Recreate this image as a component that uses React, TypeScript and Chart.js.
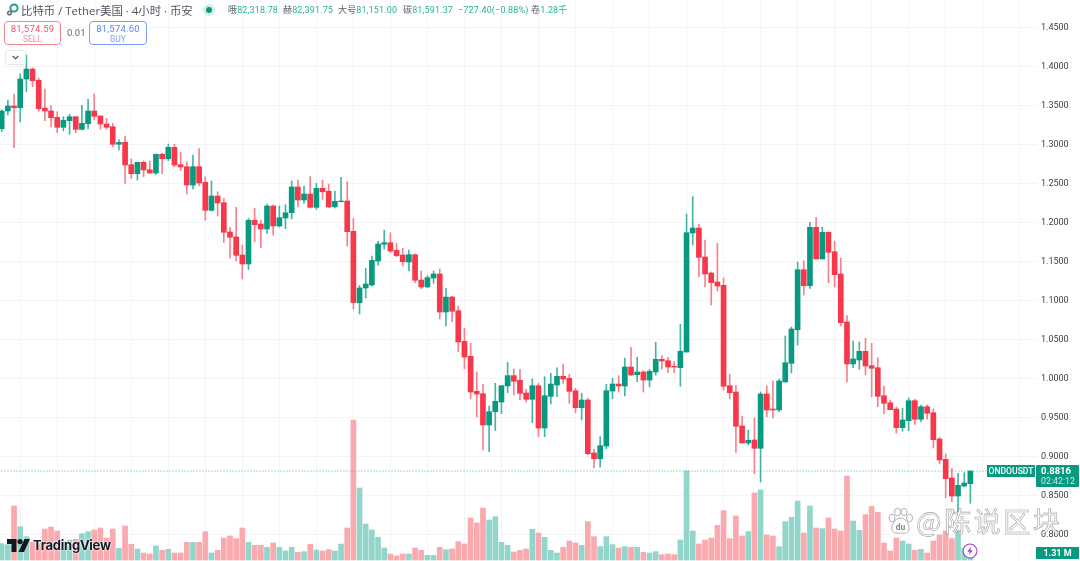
import React, { useEffect, useRef } from "react";
import { Chart, registerables } from "chart.js";

Chart.register(...registerables);

const opens = [
  1.3205, 1.3432, 1.3496, 1.3474, 1.3842, 1.397, 1.3826, 1.347, 1.3432, 1.3351,
  1.3223, 1.3308, 1.3359, 1.3197, 1.3269, 1.3432, 1.3368, 1.3265, 1.3231, 1.3006,
  1.3031, 1.2744, 1.2628, 1.2774, 1.2679, 1.2637, 1.2877, 1.282, 1.2967, 1.2744,
  1.2718, 1.2483, 1.2718, 1.2518, 1.2159, 1.2342, 1.2256, 1.1881, 1.1817, 1.1586,
  1.1471, 1.2031, 1.1983, 1.1919, 1.2214, 1.1958, 1.206, 1.2128, 1.2458, 1.2291,
  1.2368, 1.2197, 1.2441, 1.2403, 1.2205, 1.2269, 1.2278, 1.189, 1.0974, 1.1163,
  1.1201, 1.1509, 1.1723, 1.1744, 1.1646, 1.1586, 1.1496, 1.159, 1.1265, 1.1176,
  1.1291, 1.1342, 1.0855, 1.1047, 1.0872, 1.0479, 1.0287, 0.9838, 0.9808, 0.9407,
  0.9577, 0.9701, 0.9907, 1.0039, 0.998, 0.9817, 0.9736, 0.991, 0.9368, 0.9774,
  0.9919, 1.0031, 1.0005, 0.9846, 0.9628, 0.9727, 0.9048, 0.8974, 0.9137, 0.9842,
  0.9932, 0.9906, 1.015, 1.0051, 1.0086, 0.9983, 1.0086, 1.0249, 1.0231, 1.0159,
  1.0141, 1.0342, 1.1868, 1.1932, 1.156, 1.1355, 1.124, 1.1197, 0.991, 0.9829,
  0.9394, 0.9176, 0.9214, 0.9108, 0.9804, 0.9612, 0.9599, 0.9958, 1.0197, 1.0628,
  1.1397, 1.1192, 1.1941, 1.1535, 1.1877, 1.1628, 1.1342, 1.0727, 1.0189, 1.024,
  1.0351, 1.0167, 1.0141, 0.9782, 0.9692, 0.9612, 0.9372, 0.9462, 0.9718, 0.948,
  0.9641, 0.9564, 0.9227, 0.8967, 0.8727, 0.8496, 0.8624, 0.8654,
];
const closes = [
  1.3432, 1.3496, 1.3474, 1.3842, 1.397, 1.382, 1.3461, 1.3432, 1.3346, 1.3223,
  1.3313, 1.3359, 1.3197, 1.3274, 1.3432, 1.3364, 1.3265, 1.3223, 1.3005, 1.3028,
  1.274, 1.2628, 1.2774, 1.2676, 1.2637, 1.2877, 1.282, 1.2967, 1.274, 1.2714,
  1.2483, 1.2718, 1.2509, 1.2159, 1.2342, 1.2253, 1.1877, 1.1813, 1.1582, 1.1471,
  1.2031, 1.1974, 1.1919, 1.2214, 1.1958, 1.2064, 1.2128, 1.2458, 1.2291, 1.2368,
  1.2197, 1.2441, 1.2397, 1.2201, 1.2274, 1.2278, 1.1885, 1.0977, 1.1163, 1.1214,
  1.1518, 1.1727, 1.1744, 1.1637, 1.1577, 1.15, 1.159, 1.1262, 1.1176, 1.1295,
  1.1342, 1.0855, 1.1047, 1.0864, 1.0471, 1.0278, 0.983, 0.9804, 0.9407, 0.9577,
  0.971, 0.991, 1.0039, 0.9967, 0.9813, 0.9736, 0.991, 0.9368, 0.9782, 0.9932,
  1.0031, 0.9996, 0.9838, 0.9628, 0.9727, 0.9039, 0.8974, 0.9141, 0.9846, 0.9932,
  0.9906, 1.015, 1.0048, 1.0086, 0.9983, 1.0095, 1.0249, 1.0227, 1.015, 1.015,
  1.0351, 1.1872, 1.1932, 1.1556, 1.1342, 1.1231, 1.1188, 0.9903, 0.9821, 0.939,
  0.9176, 0.921, 0.9108, 0.9804, 0.9599, 0.9599, 0.9971, 1.0205, 1.0637, 1.1397,
  1.1192, 1.1941, 1.1535, 1.1877, 1.1621, 1.1333, 1.0718, 1.0189, 1.0253, 1.0351,
  1.0163, 1.0133, 0.9774, 0.9685, 0.9603, 0.9372, 0.9471, 0.9718, 0.948, 0.9641,
  0.9557, 0.9218, 0.8958, 0.8718, 0.8496, 0.8633, 0.8663, 0.8816,
];
const highs = [
  1.3445, 1.3573, 1.365, 1.3906, 1.415, 1.3987, 1.3855, 1.3714, 1.35, 1.3423,
  1.3359, 1.339, 1.3359, 1.3505, 1.3582, 1.365, 1.3368, 1.3338, 1.3274, 1.3067,
  1.3112, 1.2817, 1.2774, 1.2791, 1.2791, 1.2881, 1.289, 1.3009, 1.3005, 1.2903,
  1.2782, 1.2868, 1.2949, 1.259, 1.2535, 1.2397, 1.2313, 1.1941, 1.2197, 1.1714,
  1.2056, 1.2185, 1.2035, 1.224, 1.2227, 1.2214, 1.2231, 1.2535, 1.2547, 1.2471,
  1.259, 1.2505, 1.2547, 1.2496, 1.2406, 1.2582, 1.2526, 1.2056, 1.1197, 1.1415,
  1.1573, 1.1761, 1.1906, 1.1872, 1.1736, 1.1672, 1.165, 1.1599, 1.1381, 1.1321,
  1.1381, 1.1406, 1.1159, 1.1056, 1.0932, 1.0646, 1.0454, 1.0086, 0.9928, 0.965,
  0.9941, 0.991, 1.021, 1.0124, 1.012, 0.9864, 0.9996, 0.9941, 1.0026, 1.0069,
  1.0141, 1.0189, 1.006, 0.9877, 0.9813, 0.9753, 0.9095, 0.9257, 0.9928, 1.0005,
  1.0039, 1.0265, 1.0403, 1.0274, 1.0103, 1.012, 1.0467, 1.0295, 1.0274, 1.0218,
  1.0697, 1.2112, 1.2333, 1.1979, 1.1778, 1.1368, 1.1736, 1.1291, 1.0056, 0.9915,
  0.9522, 0.9342, 0.9496, 0.983, 0.991, 0.9974, 0.9996, 1.0547, 1.0663, 1.1496,
  1.1509, 1.2005, 1.2069, 1.1941, 1.1881, 1.1765, 1.1544, 1.0808, 1.0483, 1.047,
  1.0518, 1.0454, 1.0269, 0.9906, 0.9727, 0.9637, 0.962, 0.9753, 0.9736, 0.9663,
  0.9663, 0.9612, 0.9249, 0.9035, 0.8851, 0.8787, 0.8795, 0.882,
];
const lows = [
  1.3167, 1.3381, 1.2961, 1.3291, 1.3679, 1.3743, 1.3432, 1.3308, 1.3227, 1.3154,
  1.3176, 1.3133, 1.3154, 1.3188, 1.3205, 1.3317, 1.3197, 1.3197, 1.2974, 1.2932,
  1.2505, 1.2569, 1.2547, 1.259, 1.2633, 1.2615, 1.2628, 1.2795, 1.2718, 1.2667,
  1.2368, 1.2432, 1.2471, 1.2031, 1.215, 1.2086, 1.1744, 1.1544, 1.1509, 1.1278,
  1.1398, 1.1756, 1.1679, 1.1864, 1.1839, 1.1945, 1.1923, 1.2047, 1.2201, 1.2249,
  1.2188, 1.2172, 1.23, 1.2192, 1.2188, 1.2265, 1.1701, 1.0894, 1.083, 1.1035,
  1.1188, 1.1454, 1.1663, 1.1615, 1.1564, 1.1445, 1.1381, 1.1231, 1.1154, 1.1169,
  1.1223, 1.0765, 1.0676, 1.0727, 1.0346, 1.0128, 0.9744, 0.9509, 0.9086, 0.9064,
  0.9333, 0.9551, 0.9821, 0.9791, 0.9727, 0.9701, 0.9436, 0.9257, 0.9257, 0.9676,
  0.9769, 0.9941, 0.9685, 0.9564, 0.9471, 0.9026, 0.8859, 0.8868, 0.9103, 0.9744,
  0.9829, 0.9778, 1.0039, 0.9962, 0.9829, 0.9897, 1.0048, 1.0121, 1.0077, 1.0077,
  0.9903, 1.0342, 1.1714, 1.1308, 1.1176, 1.0945, 1.1124, 0.9855, 0.974, 0.9056,
  0.9176, 0.915, 0.8782, 0.8676, 0.9513, 0.9496, 0.9577, 0.9958, 1.0073, 1.0432,
  1.1073, 1.1159, 1.1535, 1.1535, 1.1231, 1.1176, 1.0676, 0.9958, 1.0141, 1.0121,
  1.0048, 0.9769, 0.9641, 0.9548, 0.9599, 0.9304, 0.9326, 0.9333, 0.9415, 0.9449,
  0.948, 0.9112, 0.8907, 0.8475, 0.8423, 0.8253, 0.8615, 0.8403,
];
const volumes = [
  3.27, 3.07, 10.8, 6.67, 4.67, 3.6, 3.33, 6.2, 6.6, 5.8,
  3.67, 4, 4.13, 5.27, 5.67, 6, 6.4, 4.4, 6.2, 2.33,
  6.8, 3.13, 2.2, 1.4, 1.2, 2.8, 1.93, 2.13, 1.4, 1.4,
  3.53, 3.53, 3.53, 5.67, 1.4, 1.93, 4.4, 4.8, 4.27, 6.4,
  3.53, 2.93, 2.93, 2.53, 3.4, 2.53, 1.8, 2.53, 1.53, 1.67,
  3.13, 2, 1.8, 2.07, 1.8, 3.2, 6.4, 28, 14.4, 7.2,
  6, 4.53, 2.4, 1.2, 0.8, 1.2, 1.2, 2.4, 1.93, 0.93,
  0.93, 2.53, 2.07, 2.2, 3.67, 3.2, 8.4, 7.4, 10.4, 8,
  8.67, 3.53, 2.93, 1.6, 1.93, 2.2, 6.13, 5.4, 4.53, 1.93,
  1.4, 2.53, 3.8, 3.4, 2.93, 7.67, 4.67, 2.67, 4.67, 3.07,
  2.4, 2.67, 2.53, 2.53, 1.53, 1.4, 1.67, 1.07, 1.2, 1.07,
  4, 17.8, 5.8, 3.2, 4, 4.4, 6.93, 9.87, 4.27, 8.8,
  4.8, 5.67, 13.4, 14, 5, 4.8, 2.67, 7.67, 8.53, 11.8,
  5.4, 10.8, 6.4, 6.27, 8.4, 6.2, 5.8, 16.8, 7.8, 5.93,
  9.07, 10.73, 9.53, 3.4, 1.8, 4.4, 3.8, 3.2, 1.93, 2.13,
  1.4, 3.8, 5, 5.8, 4.27, 5.87, 2.3, 1.31,
];
const priceTicks = [
  1.45, 1.4, 1.35, 1.3, 1.25, 1.2, 1.15, 1.1, 1.05, 1, 0.95, 0.9, 0.85, 0.8,
];
const timeGridBars = [
  3, 9, 15, 21, 27, 33, 39, 45, 51, 57, 63, 69, 75, 81, 87, 93, 99, 105, 111,
  117, 123, 129, 135, 141, 147, 153, 159, 165,
];
const lastPrice = [0.8816, 0.8816];

const UP = "#089981";
const DOWN = "#f7374a";
const UP_WICK = "#45b5a3";
const DOWN_WICK = "#f8808c";
const UP_VOL = "#92d5ca";
const DOWN_VOL = "#faa9ae";
const FONT = 'Roboto, "Noto Sans CJK SC", sans-serif';

const isUp = (i: number) => closes[i] >= opens[i];

const abs = (s: React.CSSProperties): React.CSSProperties => ({
  position: "absolute",
  whiteSpace: "nowrap",
  ...s,
});

function Header() {
  const g = { color: "#2bb09b" };
  const d = { color: "#5d606b" };
  const stat = (left: number, label: string, val: string) => (
    <div style={abs({ left, top: 4, fontSize: 9, lineHeight: "12px", fontFamily: FONT, letterSpacing: 0.15 })}>
      <span style={d}>{label}</span>
      <span style={g}>{val}</span>
    </div>
  );
  return (
    <>
      <svg style={abs({ left: 5, top: 3, width: 15, height: 14 })} viewBox="0 0 15 14">
        <circle cx="9" cy="5" r="3.6" fill="none" stroke="#2a9d8f" strokeWidth="2" />
        <circle cx="4.5" cy="10" r="2.6" fill="#6b7280" />
        <circle cx="4.5" cy="10" r="0.9" fill="#fff" />
      </svg>
      <div style={abs({ left: 21, top: 3, fontSize: 11.4, lineHeight: "15px", color: "#50535e", fontFamily: '"Open Sans", "Noto Sans CJK SC", sans-serif' })}>
        比特币 / Tether美国 · 4小时 · 币安
      </div>
      <div style={abs({ left: 203, top: 4, width: 12, height: 12, borderRadius: 6, background: "#d6efeb" })} />
      <div style={abs({ left: 206, top: 7, width: 6, height: 6, borderRadius: 3, background: UP })} />
      {stat(228, "哦", "82,318.78")}
      {stat(283, "赫", "82,391.75")}
      {stat(338, "大号", "81,151.00")}
      {stat(403, "碳", "81,591.37")}
      {stat(458, "", "−727.40(−0.88%)")}
      {stat(531, "卷", "1.28千")}

      <div style={abs({ left: 4, top: 21, width: 57, height: 24, boxSizing: "border-box", border: "1px solid #f5838d", borderRadius: 4, background: "#fff" })} />
      <div style={abs({ left: 4, top: 23, width: 57, textAlign: "center", fontSize: 9.5, lineHeight: "12px", color: "#f7525f", fontFamily: FONT, letterSpacing: 0.2 })}>81,574.59</div>
      <div style={abs({ left: 4, top: 34, width: 57, textAlign: "center", fontSize: 8.5, lineHeight: "11px", color: "#f98a93", fontFamily: FONT })}>SELL</div>
      <div style={abs({ left: 67, top: 27, fontSize: 9.5, lineHeight: "12px", color: "#666a75", fontFamily: FONT })}>0.01</div>
      <div style={abs({ left: 89, top: 21, width: 58, height: 24, boxSizing: "border-box", border: "1px solid #7c9cff", borderRadius: 4, background: "#fff" })} />
      <div style={abs({ left: 89, top: 23, width: 58, textAlign: "center", fontSize: 9.5, lineHeight: "12px", color: "#5b84f5", fontFamily: FONT, letterSpacing: 0.2 })}>81,574.60</div>
      <div style={abs({ left: 89, top: 34, width: 58, textAlign: "center", fontSize: 8.5, lineHeight: "11px", color: "#85a4fa", fontFamily: FONT })}>BUY</div>

      <div style={abs({ left: 5, top: 50, width: 21, height: 15, boxSizing: "border-box", border: "1px solid #e6e8ee", borderRadius: 3, background: "#fff" })} />
      <svg style={abs({ left: 12, top: 55, width: 7, height: 5 })} viewBox="0 0 7 5">
        <path d="M0.7 1 L3.5 3.8 L6.3 1" fill="none" stroke="#444" strokeWidth="1.1" />
      </svg>
    </>
  );
}

function Logo() {
  return (
    <>
      <svg style={abs({ left: 7, top: 539, width: 23, height: 13 })} viewBox="0 0 23 13">
        <path d="M0 0 H9.5 V13 H4.5 V5 H0 Z" fill="#131722" />
        <circle cx="13" cy="2.6" r="2.6" fill="#131722" />
        <path d="M17.5 0 H23 L17 13 H11.5 Z" fill="#131722" />
      </svg>
      <div style={abs({ left: 33, top: 537, fontSize: 13, lineHeight: "17px", fontWeight: 700, color: "#131722", fontFamily: 'Inter, Roboto, sans-serif', letterSpacing: -0.25, textShadow: "0 0 2px #fff, 0 0 2px #fff" })}>
        TradingView
      </div>
    </>
  );
}

function Watermark() {
  return (
    <>
      <svg style={abs({ left: 887, top: 507, width: 27, height: 29 })} viewBox="0 0 27 29">
        <g fill="#fff" stroke="#a9a9a9" strokeWidth="0.9">
          <ellipse cx="5" cy="11" rx="3" ry="3.8" />
          <ellipse cx="10.5" cy="5" rx="3" ry="3.8" />
          <ellipse cx="17" cy="5" rx="3" ry="3.8" />
          <ellipse cx="22.5" cy="11" rx="3" ry="3.8" />
          <path d="M13.5 11 C8 11 4 18 5 23 C6 27 11 26 13.5 26 C16 26 21 27 22 23 C23 18 19 11 13.5 11 Z" />
        </g>
        <text x="13.5" y="23" fontSize="8.5" textAnchor="middle" fill="#8a8a8a" fontFamily="Roboto, sans-serif" fontWeight="700">du</text>
      </svg>
      <div style={abs({ left: 916, top: 503, fontSize: 27, lineHeight: "36px", letterSpacing: 2.6, color: "rgba(255,255,255,0.85)", WebkitTextStroke: "0.6px rgba(130,130,130,0.75)", fontFamily: '"Noto Sans CJK SC", sans-serif' })}>
        @陈说区块
      </div>
    </>
  );
}

function RightLabels() {
  return (
    <>
      <div style={abs({ left: 987, top: 465, width: 48, height: 12, background: UP, color: "#fff", fontSize: 8.6, lineHeight: "12px", textAlign: "center", fontWeight: 500, fontFamily: FONT })}>ONDOUSDT</div>
      <div style={abs({ left: 1036, top: 465, width: 43, height: 22, background: UP, borderRadius: 1 })} />
      <div style={abs({ left: 1041, top: 465, color: "#fff", fontSize: 9.5, lineHeight: "12px", fontWeight: 700, fontFamily: FONT })}>0.8816</div>
      <div style={abs({ left: 1041, top: 475, color: "#cdeae5", fontSize: 8.8, lineHeight: "12px", fontFamily: FONT })}>02:42:12</div>
      <div style={abs({ left: 1036, top: 547, width: 43, height: 12, background: UP, color: "#fff", fontSize: 9, lineHeight: "12px", fontWeight: 700, textAlign: "center", fontFamily: FONT })}>1.31 M</div>
      <svg style={abs({ left: 962, top: 543, width: 16, height: 16 })} viewBox="0 0 16 16">
        <circle cx="8" cy="8" r="7" fill="#fff" stroke="#a43fc4" strokeWidth="1.1" />
        <path d="M9.3 3.4 L5.4 8.8 H7.8 L6.8 12.6 L10.7 7.2 H8.3 Z" fill="#a43fc4" />
      </svg>
    </>
  );
}

export default function App() {
  const ref = useRef<HTMLCanvasElement>(null);

  useEffect(() => {
    document.body.style.margin = "0";
    const idx = opens.map((_, i) => i);
    const chart = new Chart(ref.current as HTMLCanvasElement, {
      type: "bar",
      data: {
        datasets: [
          {
            type: "line",
            order: 3,
            data: [
              { x: -1, y: lastPrice[0] },
              { x: 168, y: lastPrice[1] },
            ],
            borderColor: "#45b5a3",
            borderWidth: 1,
            borderDash: [1, 2],
            pointRadius: 0,
            yAxisID: "y",
          },
          {
            order: 1,
            data: idx.map((i) => ({ x: i, y: [opens[i], closes[i]] })),
            backgroundColor: idx.map((i) => (isUp(i) ? UP : DOWN)),
            barThickness: 5,
            yAxisID: "y",
          },
          {
            order: 2,
            data: idx.map((i) => ({ x: i, y: [lows[i], highs[i]] })),
            backgroundColor: idx.map((i) => (isUp(i) ? UP_WICK : DOWN_WICK)),
            barThickness: 1,
            yAxisID: "y",
          },
          {
            order: 4,
            data: idx.map((i) => ({ x: i, y: volumes[i] })),
            backgroundColor: idx.map((i) => (isUp(i) ? UP_VOL : DOWN_VOL)),
            barThickness: 5,
            yAxisID: "y2",
          },
        ] as any,
      },
      options: {
        animation: false,
        responsive: false,
        maintainAspectRatio: false,
        layout: { padding: 0 },
        datasets: { bar: { grouped: false, borderWidth: 0 } },
        plugins: { legend: { display: false }, tooltip: { enabled: false } },
        scales: {
          x: {
            type: "linear",
            offset: false,
            min: -0.275,
            max: 167.8,
            grid: { color: "#f3f4f6", offset: false, drawTicks: false },
            border: { display: false },
            ticks: { display: false },
            afterBuildTicks: (s: any) => {
              s.ticks = timeGridBars.map((v) => ({ value: v }));
            },
            afterFit: (s: any) => {
              s.height = 0;
              s.paddingLeft = 0;
              s.paddingRight = 0;
              s.paddingTop = 0;
              s.paddingBottom = 0;
            },
          },
          y: {
            position: "right",
            min: 0.7663,
            max: 1.4855,
            grid: { color: "#f3f4f6", drawTicks: false },
            border: { display: false },
            ticks: {
              padding: 4,
              crossAlign: "near",
              autoSkip: false,
              color: "#3c3f48",
              font: { family: "Roboto, sans-serif", size: 9 },
              callback: (v: any) => Number(v).toFixed(4),
            },
            afterBuildTicks: (s: any) => {
              s.ticks = priceTicks.map((v) => ({ value: v }));
            },
            afterFit: (s: any) => {
              s.width = 43;
              s.paddingTop = 0;
              s.paddingBottom = 0;
              s.paddingLeft = 0;
              s.paddingRight = 0;
            },
          },
          y2: {
            display: false,
            min: -0.2,
            max: 112,
          },
        },
      } as any,
    });
    return () => chart.destroy();
  }, []);

  return (
    <div style={{ position: "absolute", left: 0, top: 0, width: 1080, height: 561, overflow: "hidden", background: "#fff" }}>
      <canvas ref={ref} width={1080} height={561} style={{ position: "absolute", left: 0, top: 0, width: 1080, height: 561 }} />
      <Header />
      <Logo />
      <Watermark />
      <RightLabels />
    </div>
  );
}
